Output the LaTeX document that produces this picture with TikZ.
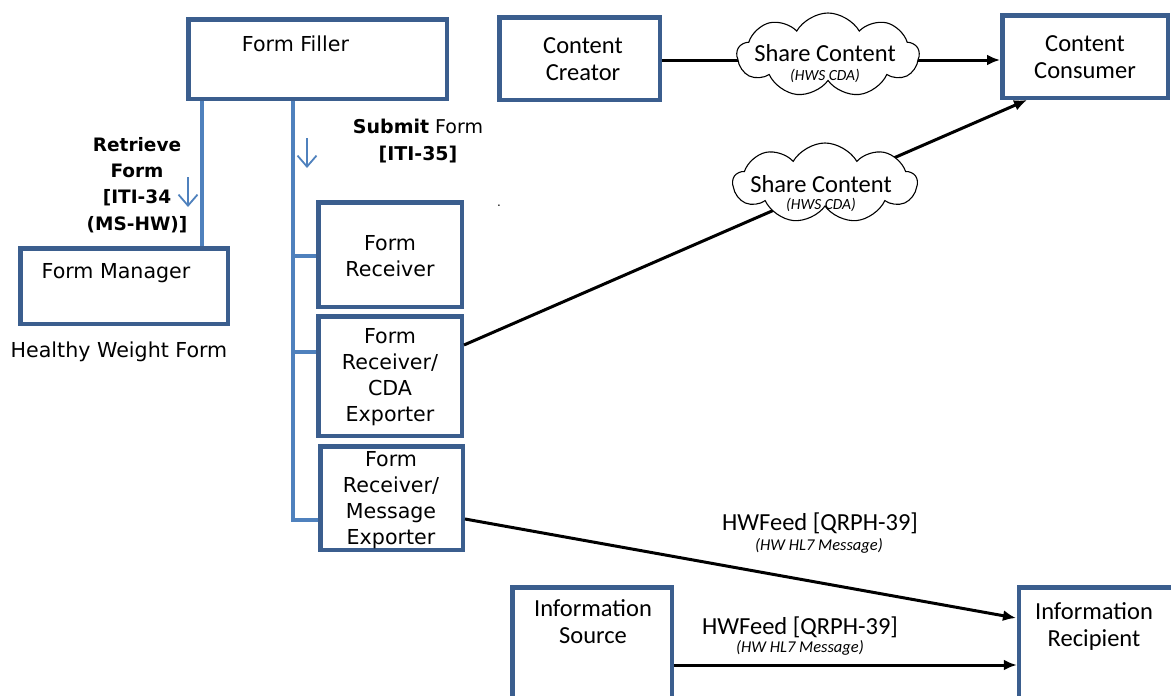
\documentclass[tikz,border=0pt]{standalone}
\usepackage{fontspec}
\setmainfont{Carlito}
\newfontfamily\vfont{DejaVu Sans}
\usetikzlibrary{shapes.symbols,arrows.meta,calc}
\definecolor{boxblue}{RGB}{59,94,142}
\definecolor{lineblue}{RGB}{79,129,189}
\begin{document}
\begin{tikzpicture}[x=1pt,y=-1pt,
  box/.style={draw=boxblue,line width=4.5pt,fill=white,inner sep=0pt,rectangle},
  vtxt/.style={inner sep=0pt,align=center,font=\vfont\fontsize{20.6}{26}\selectfont},
  btxt/.style={inner sep=0pt,align=center,font=\vfont\bfseries\fontsize{18.5}{26.3}\selectfont},
  ctxt/.style={inner sep=0pt,align=center,font=\fontsize{24.5}{27}\selectfont},
  itxt/.style={inner sep=0pt,align=center,font=\itshape\fontsize{15.5}{17}\selectfont},
  mtxt/.style={inner sep=0pt,align=center,font=\itshape\fontsize{16.5}{17}\selectfont},
  blueline/.style={draw=lineblue,line width=4pt},
  smallarrow/.style={draw=lineblue,line width=1.8pt,-{Straight Barb[length=11pt,width=19pt,line width=1.8pt]}},
  conn/.style={draw=black,line width=3pt,-{Latex[length=13pt,width=11pt]}},
  cloudshape/.style={cloud,cloud puffs=9,cloud puff arc=120,draw=black,line width=1.1pt,fill=white,inner sep=0pt}
]
\useasboundingbox (0,0) rectangle (1171,696);

% boxes
\node[box,minimum width=258.5pt,minimum height=79.5pt] (ff) at (317.5,59) {};
\node[box,minimum width=207.5pt,minimum height=75.5pt] (fm) at (124,286) {};
\node[box,minimum width=143.5pt,minimum height=104.5pt] (fr) at (390,254.5) {};
\node[box,minimum width=143.5pt,minimum height=119.5pt] (cda) at (390,376) {};
\node[box,minimum width=142.5pt,minimum height=103.5pt] (msg) at (391.5,498) {};
\node[box,minimum width=160.5pt,minimum height=82.5pt] (ccr) at (579.5,58.5) {};
\node[box,minimum width=165.5pt,minimum height=82.5pt] (con) at (1085,56.5) {};
\node[box,minimum width=159.5pt,minimum height=115pt] (src) at (592,645) {};
\node[box,minimum width=154pt,minimum height=115pt] (rcp) at (1096,645) {};

% box texts
\node[vtxt] (fft) at (295.5,44) {Form Filler};
\node[vtxt] (fmt) at (116,273) {Form Manager};
\node[vtxt] (hwf) at (119,352) {Healthy Weight Form};
\node[vtxt] (frt) at (390,256) {Form\\Receiver};
\node[vtxt] (cdat) at (390,377) {Form\\Receiver/\\CDA\\Exporter};
\node[vtxt] (msgt) at (391,500) {Form\\Receiver/\\Message\\Exporter};
\node[ctxt] (ccrt) at (583,59.5) {Content\\Creator};
\node[ctxt] (cont) at (1085,57.5) {Content\\Consumer};
\node[ctxt] (srct) at (593,622) {Information\\Source};
\node[ctxt] (rcpt) at (1094,626) {Information\\Recipient};

% blue connectors
\coordinate (ltrunk) at (201.5,0);
\coordinate (rtrunk) at (292.5,0);
\draw[blueline] (ff.south -| ltrunk) -- (fm.north -| ltrunk);
\draw[blueline] (ff.south -| rtrunk) -- (rtrunk |- 0,520) -- (msg.west |- 0,520);
\draw[blueline] (rtrunk |- 0,256) -- (fr.west |- 0,256);
\draw[blueline] (rtrunk |- 0,352) -- (cda.west |- 0,352);
\coordinate (la1) at (188,177);
\coordinate (la2) at (188,207);
\draw[smallarrow] (la1) -- (la2);
\coordinate (ra1) at (307,138);
\coordinate (ra2) at (307,168);
\draw[smallarrow] (ra1) -- (ra2);

\node[btxt] (rft) at (137,185) {Retrieve\\Form\\{}[ITI-34\\(MS-HW)]};
\node[inner sep=0pt,align=center,font=\vfont\fontsize{19}{27}\selectfont] (sft) at (418,141.5) {\textbf{Submit} Form\\{}\textbf{[ITI-35]}};
\node[inner sep=0pt,font=\vfont\fontsize{12}{12}\selectfont] (dot) at (499,206) {.};

% black connectors
\draw[conn] (ccr.east |- 0,60) -- (con.west |- 0,60);
\coordinate (conin) at (1027,100);
\draw[conn] (cda.east |- 0,345) -- (conin);
\coordinate (rcpin1) at (1016,618);
\draw[conn] (msg.east |- 0,519) -- (rcpin1);
\draw[conn] (src.east |- 0,665) -- (rcp.west |- 0,665);

% clouds
\node[cloudshape,minimum width=182pt,minimum height=84pt] (cl1) at (828,55) {};
\node[ctxt] (cl1a) at (825,53) {Share Content};
\node[itxt] (cl1b) at (825,76) {(HWS CDA)};
\node[cloudshape,minimum width=184pt,minimum height=80pt] (cl2) at (825,183) {};
\node[ctxt] (cl2a) at (821,184) {Share Content};
\node[itxt] (cl2b) at (821,205) {(HWS CDA)};

% HWFeed labels
\node[ctxt] (hw1) at (820,523) {HWFeed [QRPH-39]};
\node[mtxt] (hw1b) at (819,546) {(HW HL7 Message)};
\node[ctxt] (hw2) at (800,627) {HWFeed [QRPH-39]};
\node[mtxt] (hw2b) at (800,648) {(HW HL7 Message)};
\end{tikzpicture}
\end{document}
